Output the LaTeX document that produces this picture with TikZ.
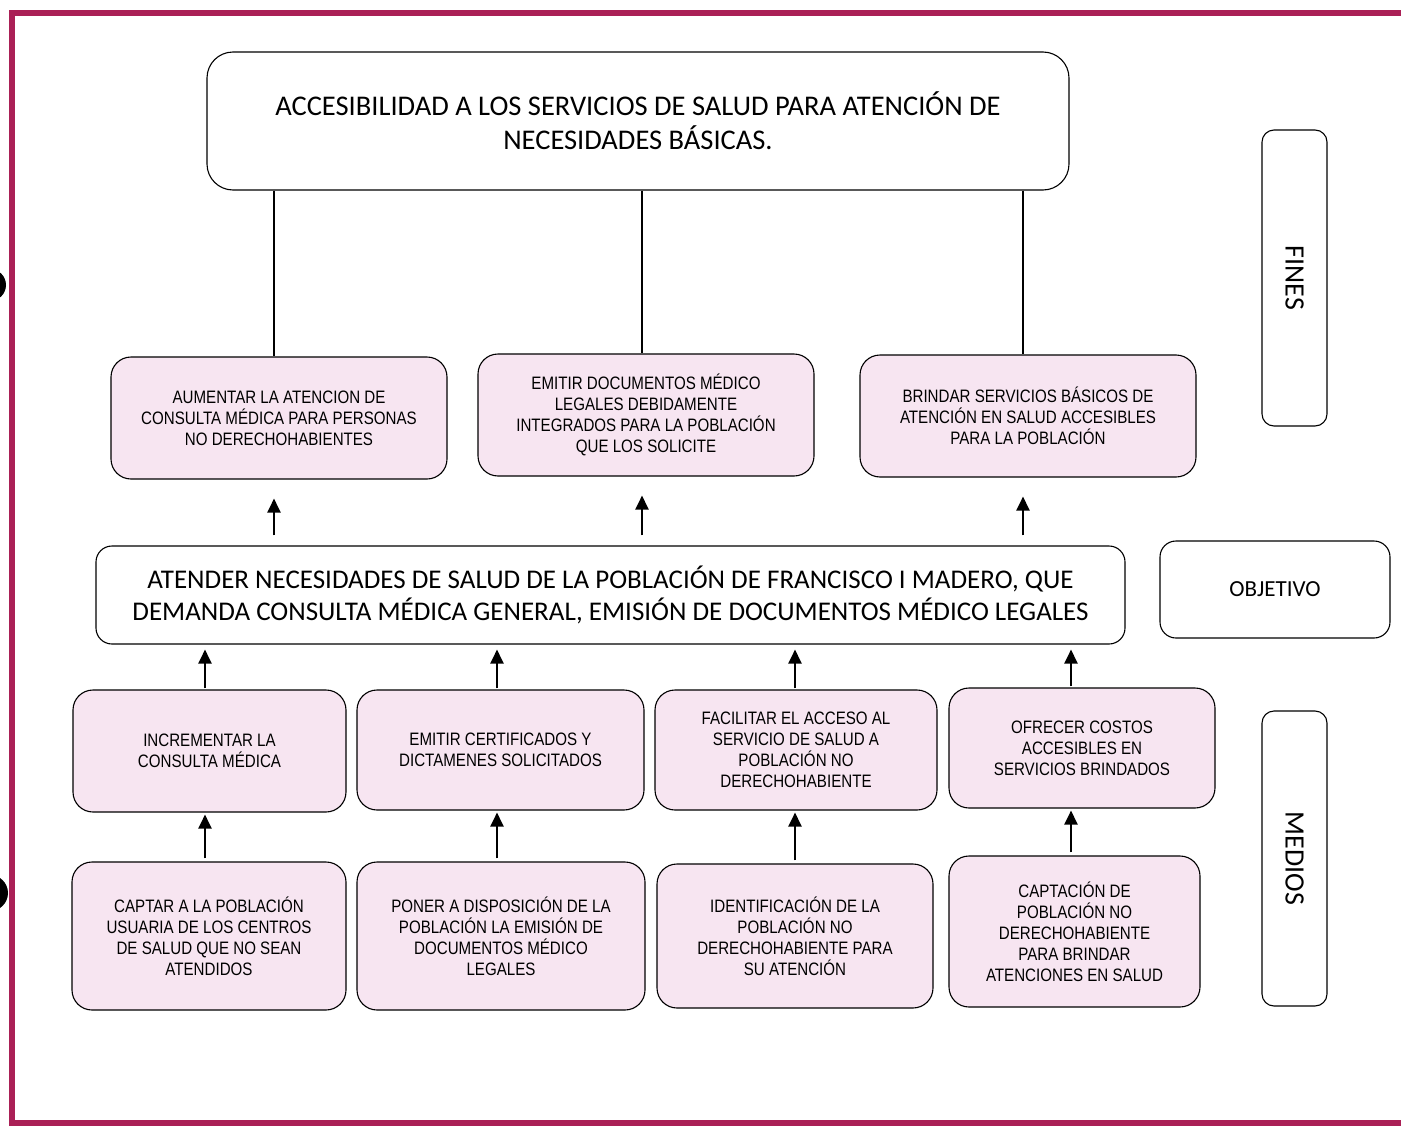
\documentclass[tikz,border=0pt]{standalone}
\usepackage{fontspec}
\setmainfont{Carlito}
\newfontfamily\arial[FakeStretch=0.84]{Liberation Sans}
\usetikzlibrary{arrows.meta}
\definecolor{marco}{RGB}{170,32,86}
\definecolor{rosa}{RGB}{247,229,241}

\begin{document}
\begin{tikzpicture}[x=1pt, y=-1pt,
	cajarosa/.style={draw, fill=rosa, line width=1.1pt, rounded corners=20pt, inner sep=0pt, align=center,
		font=\arial\fontsize{18}{21}\selectfont},
	cajablanca/.style={draw, line width=1.1pt, rounded corners=18pt, inner sep=0pt, align=center},
	flecha/.style={line width=2.4pt, -{Triangle[length=14pt,width=13pt]}},
	linea/.style={line width=1.5pt}]
	%%%%% MARCO %%%%%
	\useasboundingbox (0,0) rectangle (1401,1127);
	\begin{scope}
		\clip (0,0) rectangle (1401,1127);
		\fill[black] (-10,285) circle (16);
		\fill[black] (-10,893) circle (18);
	\end{scope}
	\draw[marco, line width=6pt] (1401,13) -- (12,13) -- (12,1123) -- (1401,1123);
	
	% columnas de los conectores
	\coordinate (xa) at (274,0);
	\coordinate (xb) at (642,0);
	\coordinate (xc) at (1023,0);
	\coordinate (xm1) at (205,0);
	\coordinate (xm2) at (497,0);
	\coordinate (xm3) at (795,0);
	\coordinate (xm4) at (1071,0);
	
	%%%%% FINES %%%%%
	\node[cajablanca, rounded corners=26pt, minimum width=862pt, minimum height=138pt,
		font=\fontsize{28.5}{34}\selectfont] (fin) at (638,121)
		{ACCESIBILIDAD A LOS SERVICIOS DE SALUD PARA ATENCIÓN DE\\NECESIDADES BÁSICAS.};
	
	\node[cajarosa, minimum width=336pt, minimum height=122pt] (fina) at (279,418)
		{AUMENTAR LA ATENCION DE\\CONSULTA MÉDICA PARA PERSONAS\\NO DERECHOHABIENTES};
	\node[cajarosa, minimum width=336pt, minimum height=122pt] (finb) at (646,415)
		{EMITIR DOCUMENTOS MÉDICO\\LEGALES DEBIDAMENTE\\INTEGRADOS PARA LA POBLACIÓN\\QUE LOS SOLICITE};
	\node[cajarosa, minimum width=336pt, minimum height=122pt] (finc) at (1028,416)
		{BRINDAR SERVICIOS BÁSICOS DE\\ATENCIÓN EN SALUD ACCESIBLES\\PARA LA POBLACIÓN};
	
	%%%%% OBJETIVO %%%%%
	\node[cajablanca, rounded corners=16pt, minimum width=1029pt, minimum height=98pt,
		font=\fontsize{27}{32}\selectfont] (obj) at (610.5,595)
		{ATENDER NECESIDADES DE SALUD DE LA POBLACIÓN DE FRANCISCO I MADERO, QUE\\DEMANDA CONSULTA MÉDICA GENERAL, EMISIÓN DE DOCUMENTOS MÉDICO LEGALES};
	
	%%%%% MEDIOS %%%%%
	\node[cajarosa, minimum width=273pt, minimum height=122pt] (meda) at (209.5,751)
		{INCREMENTAR LA\\CONSULTA MÉDICA};
	\node[cajarosa, minimum width=287pt, minimum height=120pt] (medb) at (500.5,750)
		{EMITIR CERTIFICADOS Y\\DICTAMENES SOLICITADOS};
	\node[cajarosa, minimum width=282pt, minimum height=120pt] (medc) at (796,750)
		{FACILITAR EL ACCESO AL\\SERVICIO DE SALUD A\\POBLACIÓN NO\\DERECHOHABIENTE};
	\node[cajarosa, minimum width=266pt, minimum height=120pt] (medd) at (1082,748)
		{OFRECER COSTOS\\ACCESIBLES EN\\SERVICIOS BRINDADOS};
	
	\node[cajarosa, minimum width=274pt, minimum height=148pt] (basa) at (209,936)
		{CAPTAR A LA POBLACIÓN\\USUARIA DE LOS CENTROS\\DE SALUD QUE NO SEAN\\ATENDIDOS};
	\node[cajarosa, minimum width=288pt, minimum height=148pt] (basb) at (501,936)
		{PONER A DISPOSICIÓN DE LA\\POBLACIÓN LA EMISIÓN DE\\DOCUMENTOS MÉDICO\\LEGALES};
	\node[cajarosa, minimum width=276pt, minimum height=144pt] (basc) at (795,936)
		{IDENTIFICACIÓN DE LA\\POBLACIÓN NO\\DERECHOHABIENTE PARA\\SU ATENCIÓN};
	\node[cajarosa, minimum width=251pt, minimum height=151pt] (basd) at (1074.5,931.5)
		{CAPTACIÓN DE\\POBLACIÓN NO\\DERECHOHABIENTE\\PARA BRINDAR\\ATENCIONES EN SALUD};
	
	%%%%% ETIQUETAS %%%%%
	\node[cajablanca, rounded corners=12pt, minimum width=65pt, minimum height=296pt] (etfines) at (1294.5,278) {};
	\node[rotate=-90, font=\fontsize{28}{32}\selectfont] at (etfines) {FINES};
	\node[cajablanca, rounded corners=16pt, minimum width=230pt, minimum height=97pt,
		font=\fontsize{23}{28}\selectfont] (etobj) at (1275,589.5) {OBJETIVO};
	\node[cajablanca, rounded corners=12pt, minimum width=65pt, minimum height=295pt] (etmedios) at (1294.5,858.5) {};
	\node[rotate=-90, font=\fontsize{28}{32}\selectfont] at (etmedios) {MEDIOS};
	
	%%%%% CONECTORES %%%%%
	\foreach \f/\x in {fina/xa,finb/xb,finc/xc}
		\draw[linea] (fin.south -| \x) -- (\f.north -| \x);
	\foreach \f/\x in {fina/xa,finb/xb,finc/xc}
		\draw[flecha, shorten <=10pt, shorten >=19pt] (obj.north -| \x) -- (\f.south -| \x);
	\foreach \m/\x in {meda/xm1,medb/xm2,medc/xm3,medd/xm4}
		\draw[flecha, shorten <=1pt, shorten >=5pt] (\m.north -| \x) -- (obj.south -| \x);
	\foreach \b/\m/\x in {basa/meda/xm1,basb/medb/xm2,basc/medc/xm3,basd/medd/xm4}
		\draw[flecha, shorten <=3pt, shorten >=2pt] (\b.north -| \x) -- (\m.south -| \x);
	
\end{tikzpicture}
\end{document}
